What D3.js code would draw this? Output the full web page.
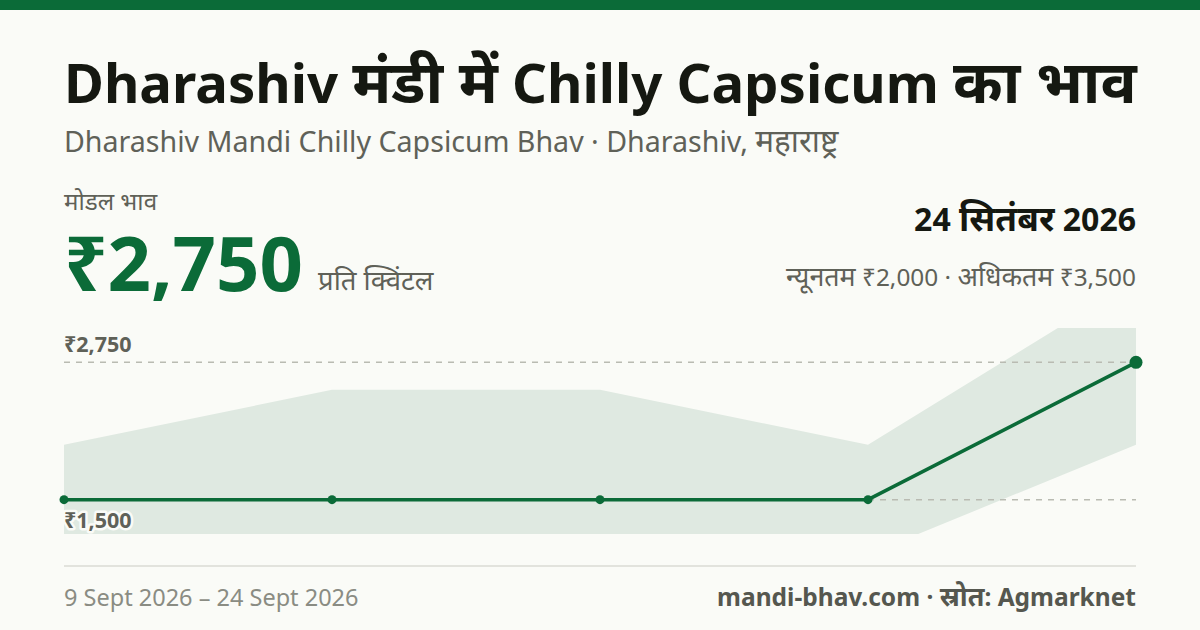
<!DOCTYPE html>
<html><head><meta charset="utf-8">
<script src="https://cdn.jsdelivr.net/npm/d3@7/dist/d3.min.js"></script>
<style>
html,body{margin:0;padding:0;background:#fafbf7;}
svg{display:block;font-family:"Noto Sans","Noto Sans Devanagari",sans-serif;}
</style></head><body>
<svg id="c" width="1200" height="630"></svg>
<script>
// ---- data ----
const dates = ["9 Sept", "13 Sept", "17 Sept", "20 Sept", "24 Sept"];
const modalPrice = [1500, 1500, 1500, 1500, 2750];
const minPrice = [1000, 1000, 1000, 1000, 2000];
const maxPrice = [2000, 2500, 2500, 2000, 3500];
const refTicks = [2750, 1500];
const refTickLabels = ["₹2,750", "₹1,500"];

const titleText = "Dharashiv मंडी में Chilly Capsicum का भाव";
const subtitleText = "Dharashiv Mandi Chilly Capsicum Bhav · Dharashiv, महाराष्ट्र";
const modalLabel = "मोडल भाव";
const modalValueText = "₹2,750";
const unitText = "प्रति क्विंटल";
const dateText = "24 सितंबर 2026";
const rangeText = "न्यूनतम ₹2,000 · अधिकतम ₹3,500";
const periodText = "9 Sept 2026 – 24 Sept 2026";
const sourceText = "mandi-bhav.com · स्रोत: Agmarknet";

// ---- layout ----
const W = 1200, H = 630;
const pL = 64, pR = 1136, pT = 328, pB = 534;
const green = "#0b6b38";
const svg = d3.select("#c");
const DEV = 1.1;

// text with Devanagari runs slightly enlarged
function mixedText(x0, y0, str, size, opts) {
  const t = svg.append("text").attr("x", x0).attr("y", y0).attr("font-size", size)
    .attr("fill", opts.fill).attr("font-weight", opts.weight || 400)
    .attr("text-anchor", opts.anchor || "start");
  const runs = str.match(/[\u0900-\u097F]+(?:[ \u0900-\u097F]*[\u0900-\u097F])?|[^\u0900-\u097F]+/g) || [];
  runs.forEach(r => {
    const isDev = /[\u0900-\u097F]/.test(r);
    t.append("tspan").attr("font-size", isDev ? size * DEV : size).text(r);
  });
  return t;
}

svg.append("rect").attr("x",0).attr("y",0).attr("width",W).attr("height",H).attr("fill","#fafbf7");
svg.append("rect").attr("x",0).attr("y",0).attr("width",W).attr("height",10).attr("fill",green);

mixedText(pL, 103, titleText, 54.5, {fill:"#151811", weight:700});
mixedText(pL, 152, subtitleText, 28.6, {fill:"#5f6158"});

mixedText(pL, 210, modalLabel, 22, {fill:"#5f6158"});
svg.append("text").attr("x",pL).attr("y",291).attr("font-size",76).attr("font-weight",700)
  .attr("fill",green).text(modalValueText);
mixedText(318, 290, unitText, 25, {fill:"#5f6158"});

mixedText(pR, 231, dateText, 32, {fill:"#151811", weight:700, anchor:"end"});
mixedText(pR, 286, rangeText, 24.4, {fill:"#5f6158", anchor:"end"});

// ---- scales ----
const lo = d3.min(modalPrice), hi = d3.max(modalPrice), pad = (hi - lo) * 0.25;
const x = d3.scalePoint().domain(dates).range([pL, pR]);
const y = d3.scaleLinear().domain([lo - pad, hi + pad]).range([pB, pT]);

svg.append("defs").append("clipPath").attr("id","clip")
  .append("rect").attr("x",pL).attr("y",pT).attr("width",pR-pL).attr("height",pB-pT);

const rows = dates.map((d,i)=>({d, m:modalPrice[i], lo:minPrice[i], hi:maxPrice[i]}));

svg.append("path").datum(rows).attr("clip-path","url(#clip)")
  .attr("fill","#dfe9e1")
  .attr("d", d3.area().x(r=>x(r.d)).y0(r=>y(r.lo)).y1(r=>y(r.hi)));

svg.selectAll("line.ref").data(refTicks).join("line").attr("class","ref")
  .attr("x1",pL).attr("x2",pR).attr("y1",d=>y(d)).attr("y2",d=>y(d))
  .attr("stroke","#b9bbb2").attr("stroke-width",1.5).attr("stroke-dasharray","6,6");

svg.append("path").datum(rows).attr("fill","none").attr("stroke",green).attr("stroke-width",3.5)
  .attr("stroke-linejoin","round")
  .attr("d", d3.line().x(r=>x(r.d)).y(r=>y(r.m)));

svg.selectAll("circle.pt").data(rows).join("circle").attr("class","pt")
  .attr("cx",r=>x(r.d)).attr("cy",r=>y(r.m))
  .attr("r",(r,i)=> i===rows.length-1 ? 6.5 : 4.5).attr("fill",green);

// labels
svg.append("text").attr("x",pL).attr("y",y(refTicks[0])-10).attr("font-size",21.5).attr("font-weight",700)
  .attr("fill","#5f6158").text(refTickLabels[0]);
svg.append("text").attr("x",pL).attr("y",y(refTicks[1])+28).attr("font-size",21.5).attr("font-weight",700)
  .attr("fill","#5f6158").attr("stroke","#fafbf7").attr("stroke-width",5).attr("paint-order","stroke")
  .attr("stroke-linejoin","round").text(refTickLabels[1]);

svg.append("line").attr("x1",pL).attr("x2",pR).attr("y1",566).attr("y2",566)
  .attr("stroke","#e2e3dd").attr("stroke-width",2);

svg.append("text").attr("x",pL).attr("y",606).attr("font-size",23.5)
  .attr("fill","#8a8c83").text(periodText);
mixedText(pR, 606, sourceText, 24.5, {fill:"#55574f", weight:700, anchor:"end"});
</script>
</body></html>
